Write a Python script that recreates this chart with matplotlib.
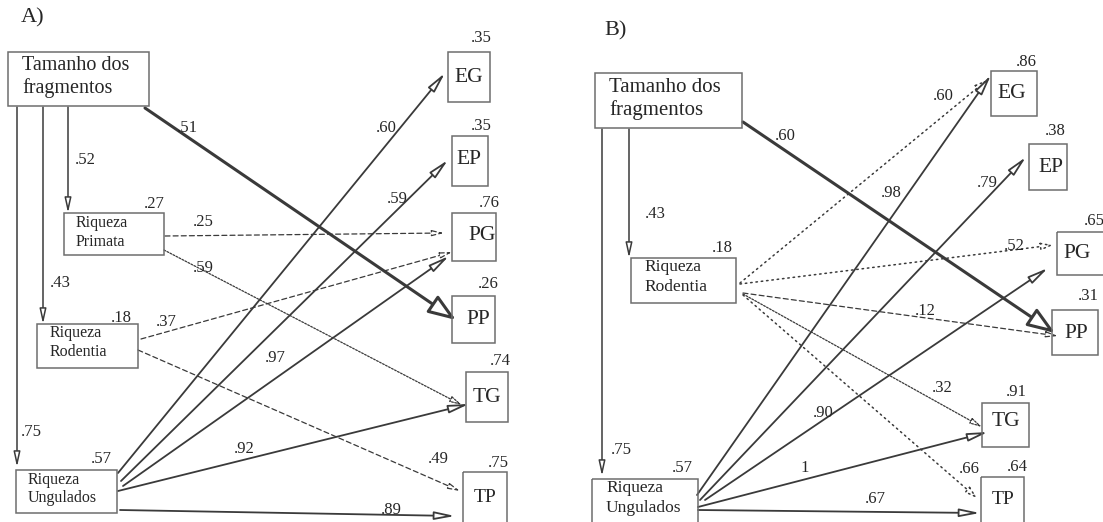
import matplotlib.pyplot as plt
from matplotlib.patches import Rectangle, FancyArrowPatch, ArrowStyle

plt.rcParams['font.family'] = ['Liberation Serif', 'DejaVu Serif']

# ---- data: variables, explained variance (R2) and path coefficients ----
nodes_a = ['Tamanho', 'Primata', 'Rodentia', 'Ungulados', 'EG', 'EP', 'PG', 'PP', 'TG', 'TP']
r2_a = [None, .27, .18, .57, .35, .35, .76, .26, .74, .75]
src_a = ['Tamanho', 'Tamanho', 'Tamanho', 'Tamanho', 'Primata', 'Primata', 'Rodentia',
         'Rodentia', 'Ungulados', 'Ungulados', 'Ungulados', 'Ungulados', 'Ungulados']
dst_a = ['Primata', 'Rodentia', 'Ungulados', 'PP', 'PG', 'TG', 'PG',
         'TP', 'EG', 'EP', 'PG', 'TG', 'TP']
coef_a = [.52, .43, .75, .51, .25, .59, .37, .49, .60, .59, .97, .92, .89]

nodes_b = ['Tamanho', 'Rodentia', 'Ungulados', 'EG', 'EP', 'PG', 'PP', 'TG', 'TP']
r2_b = [None, .18, .57, .86, .38, .65, .31, .91, .64]
src_b = ['Tamanho', 'Tamanho', 'Tamanho', 'Rodentia', 'Rodentia', 'Rodentia', 'Rodentia',
         'Rodentia', 'Ungulados', 'Ungulados', 'Ungulados', 'Ungulados', 'Ungulados']
dst_b = ['Rodentia', 'Ungulados', 'PP', 'EG', 'PG', 'PP', 'TG',
         'TP', 'EG', 'EP', 'PG', 'TG', 'TP']
coef_b = [.43, .75, .60, .60, .52, .12, .32, .66, .98, .79, .90, 1, .67]

labels = {'Tamanho': ['Tamanho dos', 'fragmentos'],
          'Primata': ['Riqueza', 'Primata'],
          'Rodentia': ['Riqueza', 'Rodentia'],
          'Ungulados': ['Riqueza', 'Ungulados']}


def fmt(v):
    return '1' if v == 1 else f'{v:.2f}'[1:]


# ---- layout (pixel coordinates of the page) ----
box_a = {'Tamanho': (8, 52, 149, 106), 'Primata': (64, 213, 164, 255),
         'Rodentia': (37, 324, 138, 368), 'Ungulados': (16, 470, 117, 513),
         'EG': (448, 52, 490, 102), 'EP': (452, 136, 488, 186), 'PG': (452, 213, 496, 261),
         'PP': (452, 296, 495, 343), 'TG': (466, 372, 508, 422), 'TP': (463, 472, 507, 530)}
r2pos_a = {'Primata': (154, 204), 'Rodentia': (121, 318), 'Ungulados': (101, 459),
           'EG': (481, 38), 'EP': (481, 126), 'PG': (489, 203), 'PP': (488, 284),
           'TG': (500, 361), 'TP': (498, 463)}
txtpos_a = {'Tamanho': (22, 65, 88), 'Primata': (76, 223, 242), 'Rodentia': (50, 333, 352),
            'Ungulados': (28, 480, 498), 'EG': (469, 77), 'EP': (469, 160), 'PG': (482, 236),
            'PP': (478, 319), 'TG': (487, 397), 'TP': (485, 497)}
# start, end, label position, style
geom_a = [((68, 107), (68, 213), (85, 160), 'v'),
          ((43, 107), (43, 324), (60, 283), 'v'),
          ((17, 107), (17, 467), (31, 432), 'v'),
          ((145, 108), (456, 320), (187, 128), 'thick'),
          ((165, 236), (444, 233), (203, 222), 'dash'),
          ((164, 250), (462, 405), (203, 268), 'fine'),
          ((141, 339), (452, 252), (166, 322), 'dash'),
          ((138, 350), (460, 491), (438, 459), 'dash'),
          ((118, 473), (445, 73), (386, 128), 'solid'),
          ((121, 481), (448, 160), (397, 199), 'solid'),
          ((123, 486), (449, 256), (275, 358), 'solid'),
          ((118, 491), (469, 404), (244, 449), 'solid'),
          ((120, 510), (455, 516), (391, 510), 'solid')]

box_b = {'Tamanho': (595, 73, 742, 128), 'Rodentia': (631, 258, 736, 303),
         'Ungulados': (592, 479, 698, 530),
         'EG': (991, 71, 1037, 116), 'EP': (1029, 144, 1067, 190), 'PG': (1057, 232, 1115, 275),
         'PP': (1052, 310, 1098, 355), 'TG': (982, 403, 1029, 447), 'TP': (981, 477, 1024, 530)}
r2pos_b = {'Rodentia': (722, 248), 'Ungulados': (682, 468), 'EG': (1026, 62),
           'EP': (1055, 131), 'PG': (1094, 221), 'PP': (1088, 296), 'TG': (1016, 392),
           'TP': (1017, 467)}
txtpos_b = {'Tamanho': (609, 87, 110), 'Rodentia': (644, 267, 287),
            'Ungulados': (606, 488, 508), 'EG': (1012, 93), 'EP': (1051, 167),
            'PG': (1077, 253), 'PP': (1076, 333), 'TG': (1006, 422), 'TP': (1003, 499)}
geom_b = [((629, 129), (629, 258), (655, 214), 'v'),
          ((602, 129), (602, 476), (621, 450), 'v'),
          ((743, 122), (1055, 333), (785, 136), 'thick'),
          ((740, 283), (987, 80), (943, 96), 'dot'),
          ((740, 284), (1053, 245), (1014, 246), 'dot'),
          ((743, 293), (1058, 336), (925, 311), 'dash'),
          ((743, 294), (982, 427), (942, 388), 'fine'),
          ((743, 295), (977, 498), (969, 469), 'dot'),
          ((697, 495), (991, 75), (891, 193), 'solid'),
          ((700, 500), (1026, 157), (987, 183), 'solid'),
          ((705, 500), (1048, 268), (823, 413), 'solid'),
          ((698, 507), (988, 432), (805, 468), 'solid'),
          ((698, 510), (980, 513), (875, 499), 'solid')]

line_col = '#3a3a3a'
box_col = '#6e6e6e'
txt_col = '#262626'
styles = {
    'v': dict(lw=1.1, ls='-', hl=1.0, hw=0.22, ms=9),
    'thick': dict(lw=2.2, ls='-', hl=0.6, hw=0.22, ms=28),
    'solid': dict(lw=1.3, ls='-', hl=1.1, hw=0.22, ms=11),
    'dash': dict(lw=0.9, ls=(0, (4, 2.5)), hl=0.8, hw=0.2, ms=9),
    'fine': dict(lw=0.9, ls=(0, (1.5, 1.2)), hl=0.8, hw=0.2, ms=9),
    'dot': dict(lw=1.1, ls=(0, (1, 2.5)), hl=0.8, hw=0.25, ms=9),
}

fig = plt.figure(figsize=(11.03, 5.22), dpi=100)
ax = fig.add_axes([0, 0, 1, 1])
ax.set_xlim(0, 1103)
ax.set_ylim(522, 0)
ax.axis('off')


def draw_panel(nodes, r2, src, dst, coef, box, r2pos, txtpos, geom, small_fs, big_fs):
    for name, r in zip(nodes, r2):
        x0, y0, x1, y1 = box[name]
        ax.add_patch(Rectangle((x0, y0), x1 - x0, y1 - y0, fill=False,
                               ec=box_col, lw=1.1, zorder=3))
        if name in labels:
            tx, ya, yb = txtpos[name]
            fs = big_fs if name == 'Tamanho' else small_fs
            ax.text(tx, ya, labels[name][0], fontsize=fs, ha='left', va='center',
                    color=txt_col, zorder=4)
            ax.text(tx, yb, labels[name][1], fontsize=fs, ha='left', va='center',
                    color=txt_col, zorder=4)
        else:
            tx, ty = txtpos[name]
            ax.text(tx, ty, name, fontsize=15.5 if name != 'TP' else 14,
                    ha='center', va='center', color=txt_col, zorder=4)
        if r is not None:
            ax.text(*r2pos[name], fmt(r), fontsize=12, ha='center', va='center',
                    color=txt_col, zorder=4)
    for s, d, c, g in zip(src, dst, coef, geom):
        p0, p1, lp, st = g
        sty = styles[st]
        arr = FancyArrowPatch(p0, p1,
                              arrowstyle=ArrowStyle('-|>', head_length=sty['hl'],
                                                    head_width=sty['hw']),
                              mutation_scale=sty['ms'], lw=sty['lw'], ls=sty['ls'],
                              ec=line_col, fc='white', shrinkA=0, shrinkB=0, zorder=2)
        ax.add_patch(arr)
        ax.text(*lp, fmt(c), fontsize=12, ha='center', va='center',
                color=txt_col, zorder=4)


ax.text(33, 18, 'A)', fontsize=16, ha='center', va='center', color=txt_col)
ax.text(616, 31, 'B)', fontsize=16, ha='center', va='center', color=txt_col)

draw_panel(nodes_a, r2_a, src_a, dst_a, coef_a, box_a, r2pos_a, txtpos_a, geom_a, 11.5, 14.5)
draw_panel(nodes_b, r2_b, src_b, dst_b, coef_b, box_b, r2pos_b, txtpos_b, geom_b, 12.5, 15)

fig.savefig('out.png', dpi=100)
